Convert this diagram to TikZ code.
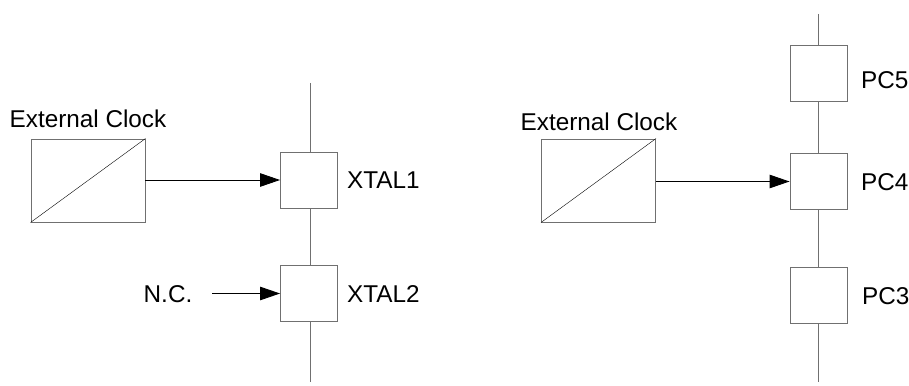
\documentclass[tikz,border=0pt]{standalone}
\usepackage{fontspec}
\setmainfont{Liberation Sans}
\usetikzlibrary{arrows.meta,positioning}
\definecolor{wiregray}{RGB}{112,112,112}
\tikzset{
  pinbox/.style={draw=wiregray,line width=0.9pt,minimum width=57pt,minimum height=56pt,inner sep=0pt},
  clockbox/.style={draw=wiregray,line width=0.9pt,minimum width=114pt,minimum height=83pt,inner sep=0pt},
  wire/.style={draw=wiregray,line width=0.9pt},
  signal/.style={-{Triangle[length=20pt,width=13.5pt]},line width=0.9pt},
  lbl/.style={inner sep=0pt}
}
\begin{document}
\begin{tikzpicture}[x=1pt,y=-1pt,font=\fontsize{24.3}{29}\selectfont]
  \useasboundingbox (0,0) rectangle (909,385);
  % left half: clock into XTAL1
  \node[clockbox] (clkA) at (88,180.5) {};
  \draw (clkA.south west) -- (clkA.north east);
  \node[lbl,anchor=base] (clkAtxt) at (88,128) {External Clock};
  \node[pinbox] (xtalA) at (309,180) {};
  \node[pinbox] (xtalB) at (309,293.5) {};
  \node[lbl,anchor=west] (xtalAtxt) at (347,180) {XTAL1};
  \node[lbl,anchor=west] (xtalBtxt) at (347,294.5) {XTAL2};
  \node[lbl] (nc) at (168,294) {N.C.};
  \coordinate (ncout) at (212,293.5);
  \coordinate (topA) at (310,83);
  \coordinate (botA) at (310,382);
  \draw[wire] (topA) -- (topA |- xtalA.north);
  \draw[wire] (topA |- xtalA.south) -- (topA |- xtalB.north);
  \draw[wire] (topA |- xtalB.south) -- (botA);
  \draw[signal] (clkA.east |- xtalA.west) -- (xtalA.west);
  \draw[signal] (ncout) -- (xtalB.west);
  % right half: clock into PC4
  \node[clockbox] (clkB) at (598.5,180.5) {};
  \draw (clkB.south west) -- (clkB.north east);
  \node[lbl,anchor=base] (clkBtxt) at (599,130) {External Clock};
  \node[pinbox] (pcC) at (818.5,73.5) {};
  \node[pinbox] (pcB) at (818.5,181.5) {};
  \node[pinbox] (pcA) at (818.5,295) {};
  \node[lbl,anchor=west] (pcCtxt) at (861,80) {PC5};
  \node[lbl,anchor=west] (pcBtxt) at (861,182) {PC4};
  \node[lbl,anchor=west] (pcAtxt) at (862,296) {PC3};
  \coordinate (topB) at (818.5,14);
  \coordinate (botB) at (818.5,382);
  \draw[wire] (topB) -- (pcC.north);
  \draw[wire] (pcC.south) -- (pcB.north);
  \draw[wire] (pcB.south) -- (pcA.north);
  \draw[wire] (pcA.south) -- (botB);
  \draw[signal] (clkB.east |- pcB.west) -- (pcB.west);
\end{tikzpicture}
\end{document}
